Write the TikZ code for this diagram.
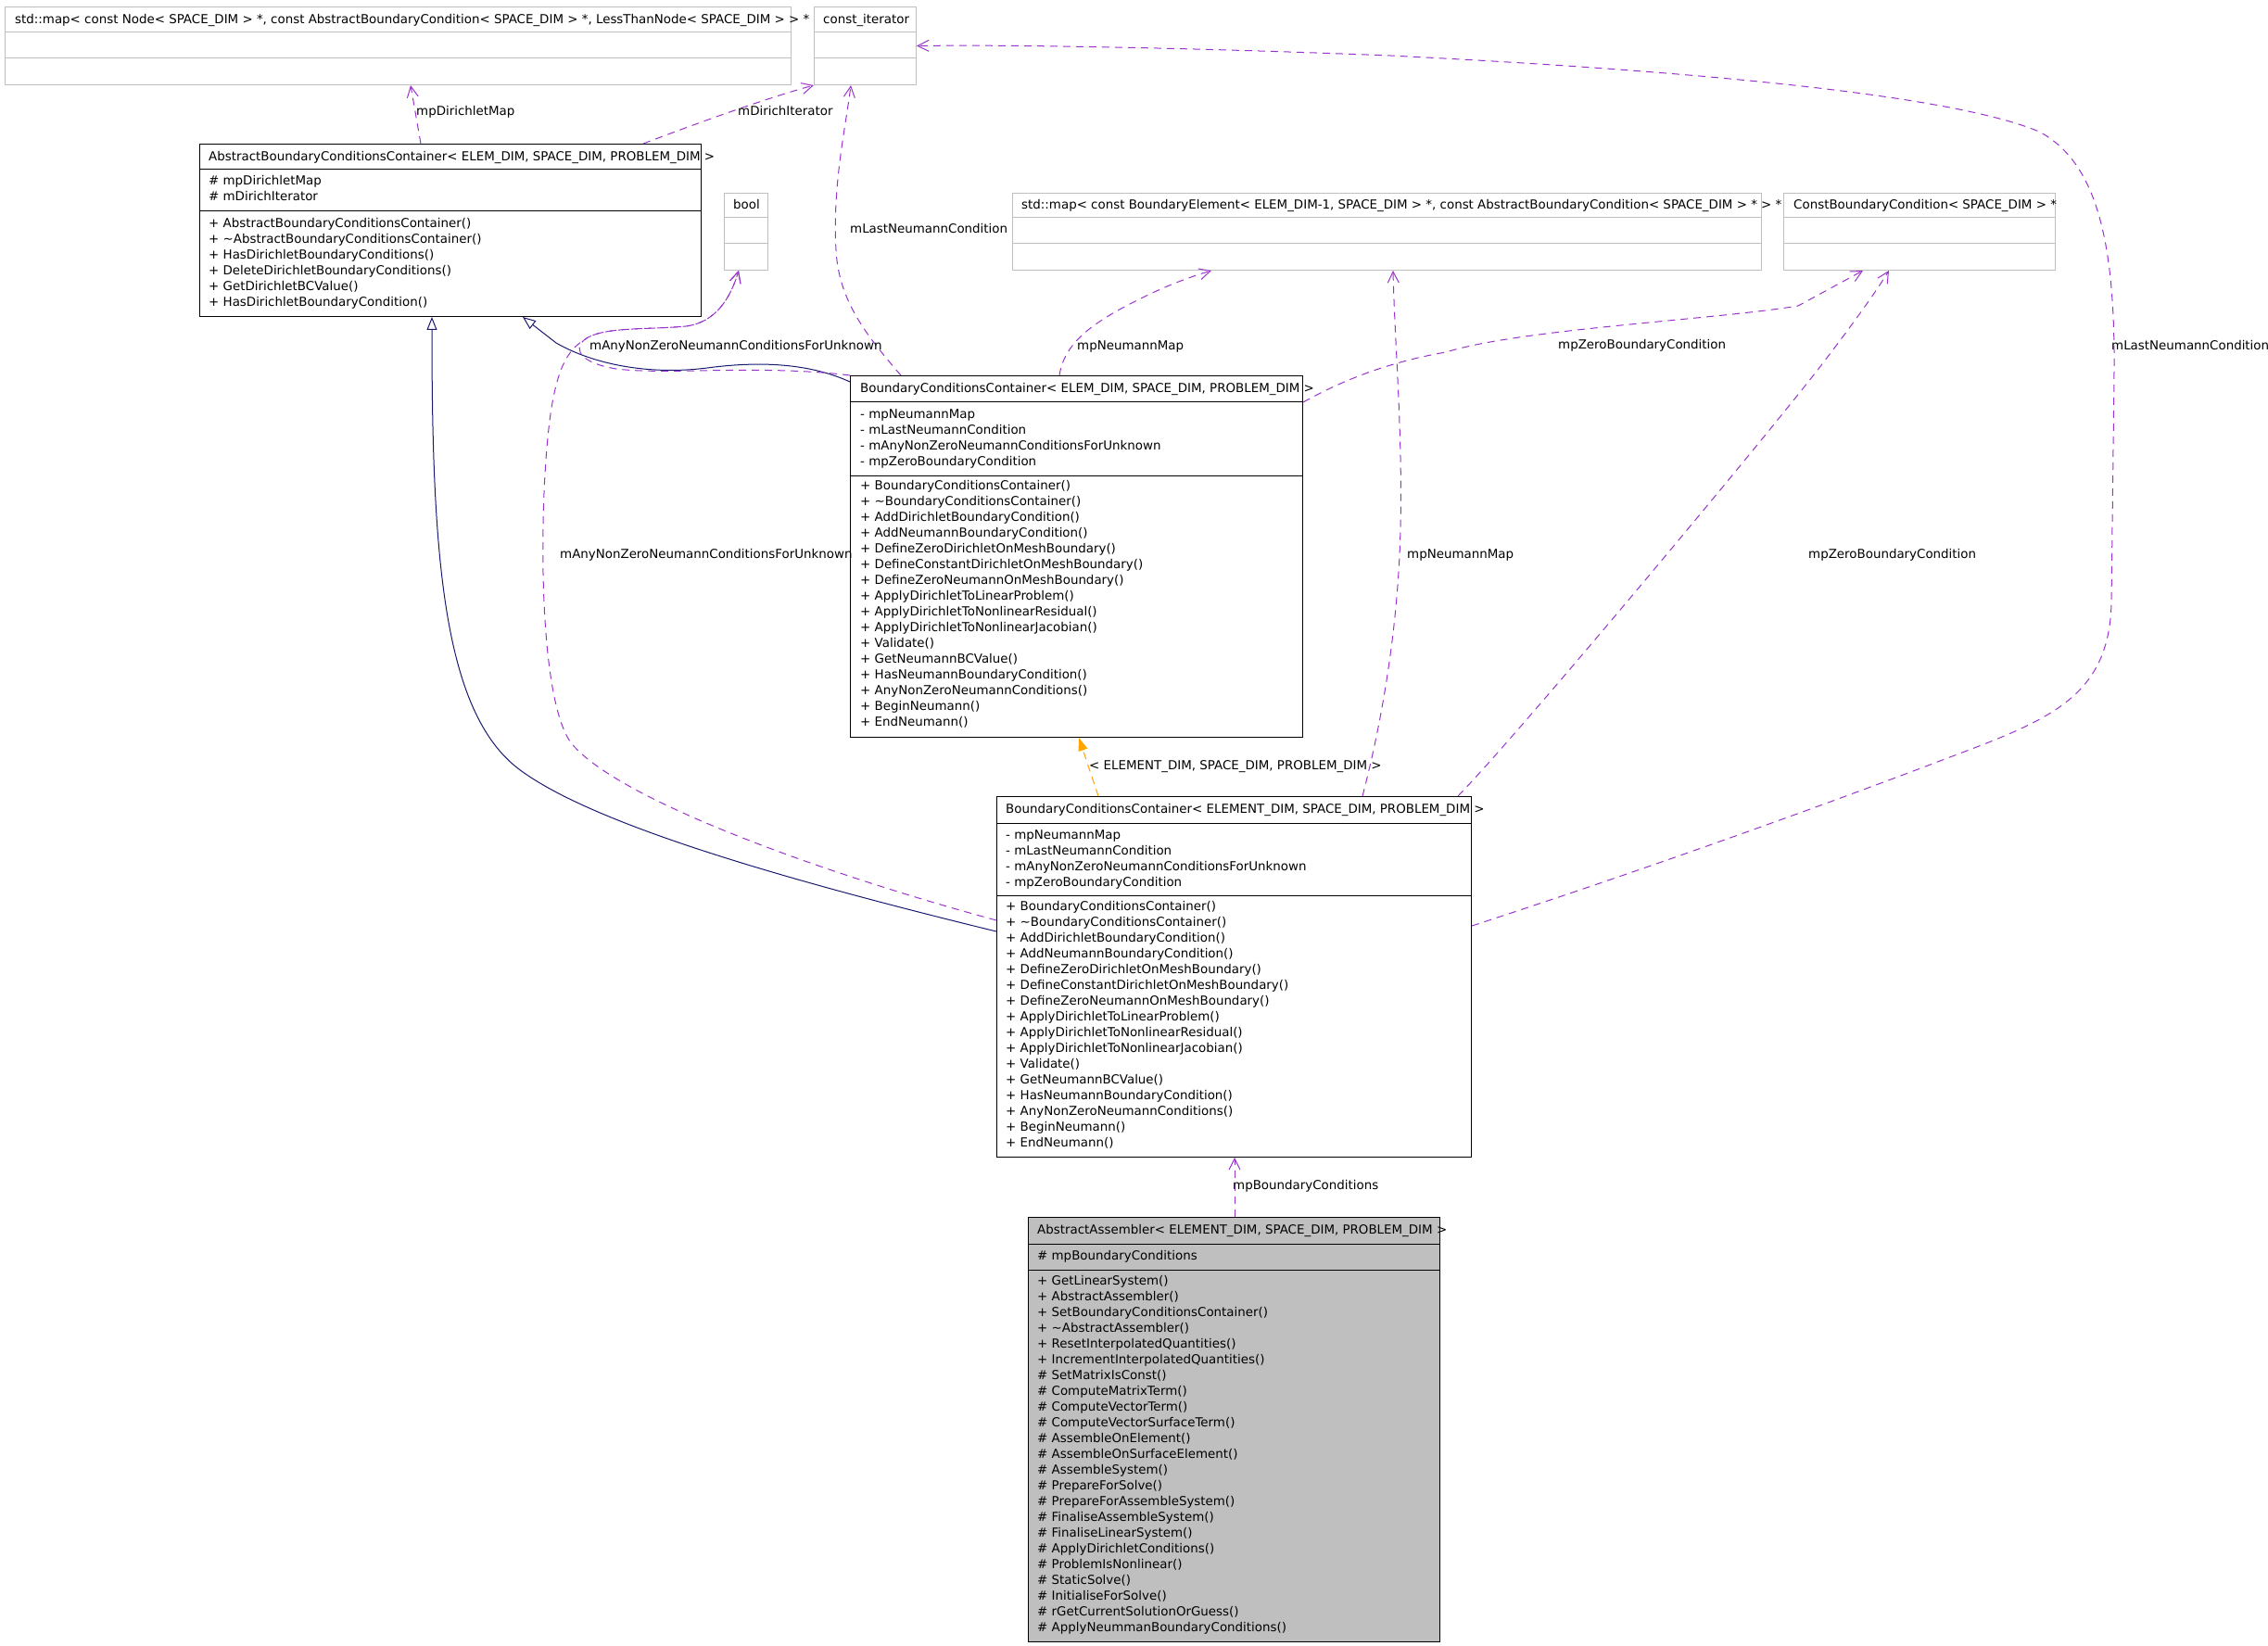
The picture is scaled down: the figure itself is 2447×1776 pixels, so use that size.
\documentclass[tikz,border=0pt]{standalone}
\usepackage{fontspec}
\setmainfont{DejaVu Sans}
\usetikzlibrary{arrows.meta}

\definecolor{edgepurple}{HTML}{9A32CD}
\definecolor{navyline}{HTML}{191970}
\definecolor{tmplorange}{HTML}{FFA500}
\definecolor{boxgray}{HTML}{BFBFBF}

\newcommand\bccattrs{- mpNeumannMap, - mLastNeumannCondition, - mAnyNonZeroNeumannConditionsForUnknown, - mpZeroBoundaryCondition}
\newcommand\bccmethods{+ BoundaryConditionsContainer(), + \textasciitilde BoundaryConditionsContainer(), + AddDirichletBoundaryCondition(), + AddNeumannBoundaryCondition(), + DefineZeroDirichletOnMeshBoundary(), + DefineConstantDirichletOnMeshBoundary(), + DefineZeroNeumannOnMeshBoundary(), + ApplyDirichletToLinearProblem(), + ApplyDirichletToNonlinearResidual(), + ApplyDirichletToNonlinearJacobian(), + Validate(), + GetNeumannBCValue(), + HasNeumannBoundaryCondition(), + AnyNonZeroNeumannConditions(), + BeginNeumann(), + EndNeumann()}

\tikzset{
  typebox/.style={draw=boxgray, line width=1pt, inner sep=0, anchor=north west},
  classbox/.style={draw=black, line width=1pt, inner sep=0, anchor=north west},
  mainbox/.style={classbox, fill=boxgray},
  txt/.style={anchor=base west, inner sep=0},
  member/.style={edgepurple, line width=1pt, dash pattern=on 8pt off 6pt, -{Straight Barb[length=12pt,width=12pt]}},
  inherit/.style={navyline, line width=1pt, -{Triangle[open,length=14pt,width=11pt]}},
  tmpl/.style={tmplorange, line width=1pt, dash pattern=on 8pt off 6pt, -{Triangle[length=14pt,width=10pt]}}
}

\begin{document}
\begin{tikzpicture}[x=1pt,y=-1pt,font=\fontsize{13.4}{17}\selectfont]
  \useasboundingbox (0,0) rectangle (2447,1776);

  \foreach \n/\x/\y/\w/\h/\sa/\sb/\s/\c in {mapn/5/7/848/84/28/56/typebox/boxgray, citer/878/7/110/84/28/56/typebox/boxgray, boolb/781/208/47/83/27/55/typebox/boxgray, mapbe/1092/208/808/83/27/55/typebox/boxgray, constbc/1924/208/293/83/27/55/typebox/boxgray, abcc/215/155/541/186/28/73/classbox/black, bcc/917/405/488/390/28/108/classbox/black, bcce/1075/859/512/389/29/107/classbox/black, asm/1109/1313/444/458/29/57/mainbox/black} {
    \node[\s, minimum width=\w, minimum height=\h] (\n) at (\x,\y) {};
    \draw[\c, line width=1pt] (\x,\y+\sa) -- ++(\w,0) (\x,\y+\sb) -- ++(\w,0);
  }

  \node[txt] (mapnt) at (16,25.5) {std::map< const Node< SPACE\_DIM > *, const AbstractBoundaryCondition< SPACE\_DIM > *, LessThanNode< SPACE\_DIM > > *};
  \node[txt] (citert) at (888,25.5) {const\_iterator};
  \node[txt] (boolt) at (791,226) {bool};
  \node[txt] (mapbet) at (1102,226) {std::map< const BoundaryElement< ELEM\_DIM-1, SPACE\_DIM > *, const AbstractBoundaryCondition< SPACE\_DIM > * > *};
  \node[txt] (constbct) at (1935,226) {ConstBoundaryCondition< SPACE\_DIM > *};
  \node[txt] (abcct) at (225,173.5) {AbstractBoundaryConditionsContainer< ELEM\_DIM, SPACE\_DIM, PROBLEM\_DIM >};
  \node[txt] (bcct) at (928,423.5) {BoundaryConditionsContainer< ELEM\_DIM, SPACE\_DIM, PROBLEM\_DIM >};
  \node[txt] (bccet) at (1085,877.5) {BoundaryConditionsContainer< ELEMENT\_DIM, SPACE\_DIM, PROBLEM\_DIM >};
  \node[txt] (asmt) at (1119,1331.5) {AbstractAssembler< ELEMENT\_DIM, SPACE\_DIM, PROBLEM\_DIM >};

  \foreach \t [count=\i from 0] in {\# mpDirichletMap, \# mDirichIterator}
    \node[txt] (abcca\i) at (225,199.5+17*\i) {\t};
  \foreach \t [count=\i from 0] in {+ AbstractBoundaryConditionsContainer(), + \textasciitilde AbstractBoundaryConditionsContainer(), + HasDirichletBoundaryConditions(), + DeleteDirichletBoundaryConditions(), + GetDirichletBCValue(), + HasDirichletBoundaryCondition()}
    \node[txt] (abccm\i) at (225,245.5+17*\i) {\t};

  \foreach \n/\x/\ya/\yb in {bcc/928/451.5/528.5, bcce/1085/905.5/982.5} {
    \foreach \t [count=\i from 0] in \bccattrs
      \node[txt] (\n a\i) at (\x,\ya+17*\i) {\t};
    \foreach \t [count=\i from 0] in \bccmethods
      \node[txt] (\n m\i) at (\x,\yb+17*\i) {\t};
  }

  \node[txt] (asma0) at (1119,1359.5) {\# mpBoundaryConditions};
  \foreach \t [count=\i from 0] in {+ GetLinearSystem(), + AbstractAssembler(), + SetBoundaryConditionsContainer(), + \textasciitilde AbstractAssembler(), + ResetInterpolatedQuantities(), + IncrementInterpolatedQuantities(), \# SetMatrixIsConst(), \# ComputeMatrixTerm(), \# ComputeVectorTerm(), \# ComputeVectorSurfaceTerm(), \# AssembleOnElement(), \# AssembleOnSurfaceElement(), \# AssembleSystem(), \# PrepareForSolve(), \# PrepareForAssembleSystem(), \# FinaliseAssembleSystem(), \# FinaliseLinearSystem(), \# ApplyDirichletConditions(), \# ProblemIsNonlinear(), \# StaticSolve(), \# InitialiseForSolve(), \# rGetCurrentSolutionOrGuess(), \# ApplyNeummanBoundaryConditions()}
    \node[txt] (asmm\i) at (1119,1386.5+17*\i) {\t};

  \draw[inherit] (bcce.west |- 0,1005) .. controls (850,950) and (640,890) .. (560,830) .. controls (478,768) and (466,600) .. (abcc.south -| 466,0);
  \draw[inherit] (bcc.west |- 0,412) .. controls (880,395) and (830,388) .. (763,397) .. controls (700,405) and (640,393) .. (600,370) -- (abcc.south -| 564,0);

  \draw[member] (abcc.north -| 454,0) -- (mapn.south -| 443,0);
  \node[txt] (ldirmap) at (449,124.5) {mpDirichletMap};
  \draw[member] (abcc.north -| 694,0) .. controls (760,130) and (830,105) .. (citer.south west);
  \node[txt] (ldirit) at (796,124.5) {mDirichIterator};

  \draw[member] (bcc.north -| 972,0) .. controls (935,362) and (905,325) .. (902,270) .. controls (898,200) and (912,140) .. (citer.south -| 918,0);
  \node[txt] (llasta) at (917,251.5) {mLastNeumannCondition};
  \draw[member] (bcc.north west) .. controls (820,393) and (720,405) .. (665,398) .. controls (628,392) and (618,378) .. (630,367) .. controls (648,352) and (700,356) .. (740,352) .. controls (772,348) and (788,322) .. (boolb.south -| 797,0);
  \node[txt] (lanya) at (636,377.5) {mAnyNonZeroNeumannConditionsForUnknown};
  \draw[member] (bcc.north -| 1143,0) .. controls (1148,372) and (1175,350) .. (1225,325) .. controls (1262,306) and (1290,297) .. (mapbe.south -| 1307,0);
  \node[txt] (lmapa) at (1162,377.5) {mpNeumannMap};
  \draw[member] (bcc.east |- 0,434) .. controls (1440,415) and (1490,392) .. (1560,380) .. controls (1640,355) and (1850,345) .. (1940,330) -- (constbc.south -| 2010,0);
  \node[txt] (lzeroa) at (1681,377) {mpZeroBoundaryCondition};

  \draw[member] (bcce.west |- 0,993) .. controls (880,940) and (660,860) .. (615,800) .. controls (578,745) and (582,520) .. (595,440) .. controls (602,398) and (612,378) .. (630,367) .. controls (648,352) and (700,356) .. (740,352) .. controls (772,348) and (788,322) .. (boolb.south -| 797,0);
  \node[txt] (lanyb) at (604,602.5) {mAnyNonZeroNeumannConditionsForUnknown};
  \draw[member] (bcce.north -| 1470,0) .. controls (1488,790) and (1505,700) .. (1510,600) .. controls (1515,480) and (1505,380) .. (mapbe.south -| 1503,0);
  \node[txt] (lmapb) at (1518,602.5) {mpNeumannMap};
  \draw[member] (bcce.north -| 1573,0) .. controls (1640,790) and (1890,490) .. (1962,398) .. controls (1995,355) and (2022,318) .. (constbc.south -| 2038,0);
  \node[txt] (lzerob) at (1951,602.5) {mpZeroBoundaryCondition};
  \draw[member] (bcce.east |- 0,999) .. controls (1800,930) and (1990,860) .. (2080,826) .. controls (2200,780) and (2276,760) .. (2278,650) -- (2281,400) .. controls (2282,260) and (2262,175) .. (2200,142) .. controls (2100,100) and (1800,75) .. (1500,60) .. controls (1300,52) and (1100,48) .. (citer.east);
  \node[txt] (llastb) at (2278,377.5) {mLastNeumannCondition};

  \draw[tmpl] (bcce.north -| 1185,0) -- (bcc.south -| 1164,0);
  \node[txt] (ltmpl) at (1175,830.5) {< ELEMENT\_DIM, SPACE\_DIM, PROBLEM\_DIM >};
  \draw[member] (asm.north -| 1332,0) -- (bcce.south -| 1332,0);
  \node[txt] (lbc) at (1330,1283.5) {mpBoundaryConditions};
\end{tikzpicture}
\end{document}
